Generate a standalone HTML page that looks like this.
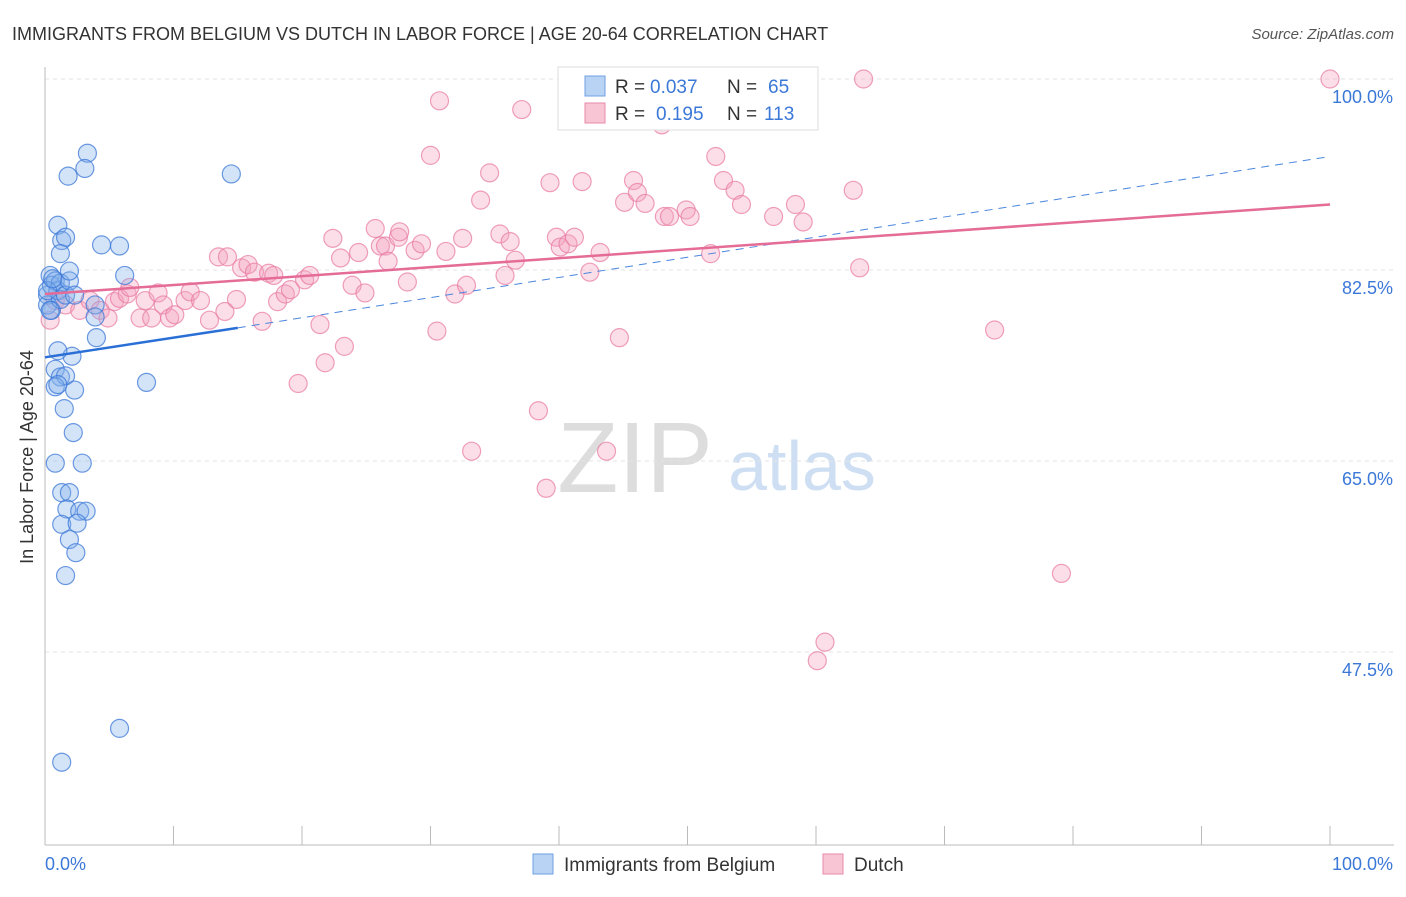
<!DOCTYPE html>
<html><head><meta charset="utf-8"><style>
body{margin:0;background:#fff;font-family:"Liberation Sans",sans-serif}
svg text{font-family:"Liberation Sans",sans-serif}
</style></head><body>
<svg width="1406" height="892" xmlns="http://www.w3.org/2000/svg" id="chart">
<text x="12" y="40" font-size="18" fill="#333">IMMIGRANTS FROM BELGIUM VS DUTCH IN LABOR FORCE | AGE 20-64 CORRELATION CHART</text>
<text x="1394" y="39" font-size="15" fill="#555" text-anchor="end" font-style="italic">Source: ZipAtlas.com</text>
<text transform="translate(33,457) rotate(-90)" font-size="18" fill="#333" text-anchor="middle">In Labor Force | Age 20-64</text>
<g>
<text x="635" y="492" font-size="100" fill="#ddd" text-anchor="middle" font-family="Liberation Serif">ZIP</text>
<text x="802" y="490" font-size="70" fill="#cfdff3" text-anchor="middle">atlas</text>
</g>
<g id="grid"></g><g id="axes"></g><g id="marks"></g><g id="lines"></g>
<g>
<rect x="558" y="67" width="260" height="63" fill="#fff" stroke="#ddd"/>
<rect x="585" y="76" width="20" height="20" fill="#b9d3f5" stroke="#6f9fe0"/>
<text x="615" y="93" font-size="19" fill="#333">R =</text>
<text x="650" y="93" font-size="19" fill="#3b78d8">0.037</text>
<text x="727" y="93" font-size="19" fill="#333">N =</text>
<text x="768" y="93" font-size="19" fill="#3b78d8">65</text>
<rect x="585" y="103" width="20" height="20" fill="#f8c5d4" stroke="#e88aa8"/>
<text x="615" y="120" font-size="19" fill="#333">R =</text>
<text x="656" y="120" font-size="19" fill="#3b78d8">0.195</text>
<text x="727" y="120" font-size="19" fill="#333">N =</text>
<text x="764" y="120" font-size="19" fill="#3b78d8">113</text>
</g>
<g>
<rect x="533" y="854" width="20" height="20" fill="#b9d3f5" stroke="#6f9fe0"/>
<text x="564" y="871" font-size="19" fill="#333">Immigrants from Belgium</text>
<rect x="823" y="854" width="20" height="20" fill="#f8c5d4" stroke="#e88aa8"/>
<text x="854" y="871" font-size="19" fill="#333">Dutch</text>
</g>
</svg>
<script>
const yTicks=[100,82.5,65,47.5];
const yTickLabels=["100.0%","82.5%","65.0%","47.5%"];
const blueX=[0.2,0.4,0.5,0.8,1.0,1.2,0.2,0.5,1.2,1.6,1.9,1.9,1.0,1.3,1.6,1.2,1.8,3.3,3.1,4.4,5.8,14.5,6.2,3.9,3.9,4.0,2.1,1.0,0.8,1.2,1.6,0.8,1.0,2.3,1.5,2.2,0.8,2.9,1.3,1.9,1.7,2.7,3.2,1.3,2.5,1.9,2.4,1.6,7.9,5.8,1.3,0.4,2.3,0.2,0.6];
const blueY=[80.2,82.0,81.1,81.5,80.6,81.3,79.3,78.8,79.8,80.2,81.5,82.4,86.6,85.2,85.5,84.0,91.1,93.2,91.8,84.8,84.7,91.3,82.0,79.3,78.2,76.3,74.6,75.1,73.4,72.7,72.8,71.8,72.0,71.5,69.8,67.6,64.8,64.8,62.1,62.1,60.6,60.4,60.4,59.2,59.3,57.8,56.6,54.5,72.2,40.5,37.4,78.8,80.2,80.6,81.7];
const pinkX=[0.4,0.8,1.6,2.7,3.5,4.3,4.9,5.4,5.8,6.4,6.6,7.4,7.8,8.3,8.8,9.2,9.7,10.1,10.9,11.3,12.1,12.8,13.5,14.0,14.2,14.9,15.3,15.8,16.3,16.9,17.4,17.8,18.1,18.7,19.1,19.7,20.2,20.6,21.4,21.8,22.4,23.0,23.3,23.9,24.4,24.9,25.7,26.1,26.5,26.7,27.5,27.6,28.2,28.8,29.3,30.0,30.5,30.7,31.2,31.9,32.5,32.8,33.2,33.9,34.6,35.4,35.8,36.2,36.6,37.1,38.4,39.0,39.3,39.8,40.1,40.7,41.2,41.8,42.4,43.2,43.7,44.7,45.1,45.8,46.1,46.7,48.0,48.2,48.6,49.9,50.2,51.4,51.8,52.2,52.8,53.7,54.2,56.7,58.4,59.0,60.1,60.7,62.9,63.4,63.7,73.9,79.1,100.0];
const pinkY=[77.9,79.7,79.3,78.8,79.7,78.8,78.1,79.6,79.9,80.3,80.9,78.1,79.7,78.1,80.4,79.3,78.1,78.4,79.7,80.5,79.7,77.9,83.7,78.7,83.7,79.8,82.7,83.0,82.3,77.8,82.2,82.0,79.6,80.3,80.7,72.1,81.6,82.0,77.5,74.0,85.4,83.6,75.5,81.1,84.1,80.4,86.3,84.7,84.7,83.3,85.5,86.0,81.4,84.3,84.9,93.0,76.9,98.0,84.2,80.3,85.4,81.1,65.9,88.9,91.4,85.8,82.0,85.1,83.4,97.2,69.6,62.5,90.5,85.5,84.6,84.9,85.5,90.6,82.3,84.1,65.9,76.3,88.7,90.7,89.6,88.6,95.8,87.4,87.4,88.0,87.4,96.9,84.0,92.9,90.7,89.8,88.5,87.4,88.5,86.9,46.7,48.4,89.8,82.7,100.0,77.0,54.7,100.0];
const blueTrend=[0,74.5,15,77.2];
const blueDash=[15,77.2,100,92.9];
const pinkTrend=[0,80.3,100,88.5];
const X0=45,X1=1330,Ytop=79,PX=10.914;
const sx=v=>X0+(X1-X0)*v/100;
const sy=v=>Ytop+(100-v)*PX;
const NS="http://www.w3.org/2000/svg";
function mk(tag,attrs,parent){const e=document.createElementNS(NS,tag);for(const k in attrs)e.setAttribute(k,attrs[k]);document.getElementById(parent).appendChild(e);return e;}
yTicks.forEach((t,i)=>{
 const g=mk('line',{x1:45,x2:1394,y1:sy(t),y2:sy(t),stroke:'#e3e3e3','stroke-dasharray':'4,4'},'grid');
 
 
 const l=mk('text',{x:1393,y:sy(t)+24,'font-size':18,fill:'#3b78d8','text-anchor':'end'},'axes');
 l.textContent=yTickLabels[i];
 
 
});
const ax=mk('line',{x1:45,x2:45,y1:67,y2:845,stroke:'#bbb'},'axes');


const bx=mk('line',{x1:45,x2:1394,y1:845,y2:845,stroke:'#bbb'},'axes');


for(let i=0;i<=10;i++){const t=mk('line',{x1:sx(i*10),x2:sx(i*10),y1:826,y2:845,stroke:'#bbb'},'axes');
 
 }
const xl=mk('text',{x:45,y:870,'font-size':18,fill:'#3b78d8'},'axes');xl.textContent='0.0%';


const xr=mk('text',{x:1393,y:870,'font-size':18,fill:'#3b78d8','text-anchor':'end'},'axes');xr.textContent='100.0%';


pinkX.forEach((v,i)=>{const c=mk('circle',{cx:sx(v),cy:sy(pinkY[i]),r:9,fill:'rgba(244,160,188,0.35)',stroke:'rgba(232,120,160,0.7)','stroke-width':1.2},'marks');
 
 });
blueX.forEach((v,i)=>{const c=mk('circle',{cx:sx(v),cy:sy(blueY[i]),r:9,fill:'rgba(130,175,235,0.35)',stroke:'rgba(60,120,215,0.75)','stroke-width':1.2},'marks');
 
 });
const bl=mk('line',{x1:sx(blueTrend[0]),y1:sy(blueTrend[1]),x2:sx(blueTrend[2]),y2:sy(blueTrend[3]),stroke:'#2a6fd6','stroke-width':2.5},'lines');


const bd=mk('line',{x1:sx(blueDash[0]),y1:sy(blueDash[1]),x2:sx(blueDash[2]),y2:sy(blueDash[3]),stroke:'#4a86dd','stroke-width':1,'stroke-dasharray':'8,6'},'lines');


const pl=mk('line',{x1:sx(pinkTrend[0]),y1:sy(pinkTrend[1]),x2:sx(pinkTrend[2]),y2:sy(pinkTrend[3]),stroke:'#e46c96','stroke-width':2.5},'lines');


</script>
</body></html>
